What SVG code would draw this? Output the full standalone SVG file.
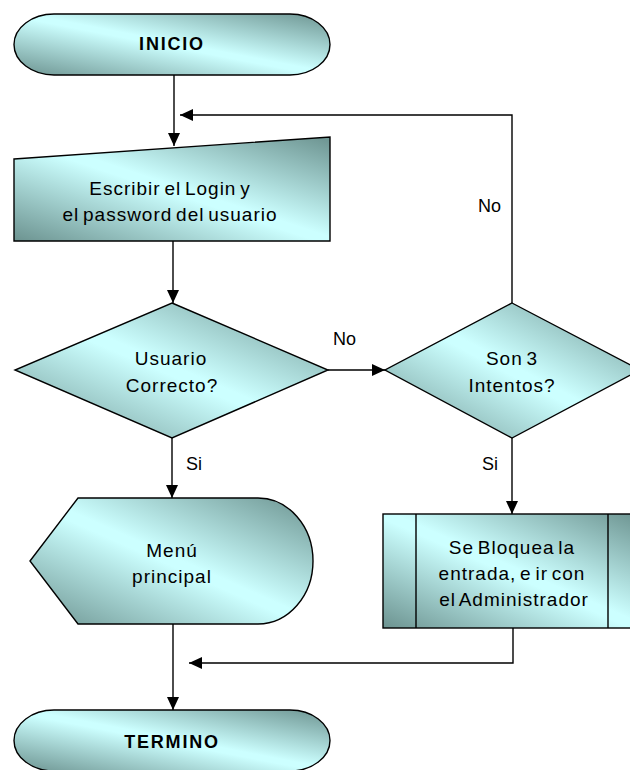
<svg xmlns="http://www.w3.org/2000/svg" width="630" height="770" viewBox="0 0 630 770">
  <defs>
    <linearGradient id="fill" x1="1" y1="0" x2="0" y2="1">
      <stop offset="0" stop-color="#6C9390"/>
      <stop offset="0.48" stop-color="#CCFFFF"/>
      <stop offset="0.52" stop-color="#CCFFFF"/>
      <stop offset="1" stop-color="#6C9390"/>
    </linearGradient>
    <marker id="arrow" viewBox="0 0 13 12" refX="13" refY="6" markerWidth="13" markerHeight="12" markerUnits="userSpaceOnUse" orient="auto">
      <path d="M0,0 L13,6 L0,12 Z" fill="#000"/>
    </marker>
  </defs>
  <style>
    .shape { fill: url(#fill); stroke: #000; stroke-width: 1.4; }
    .edge { fill: none; stroke: #000; stroke-width: 1.4; }
    .txt { font-family: "Liberation Sans", Arial, sans-serif; font-size: 19px; fill: #000; text-anchor: middle; letter-spacing: 1px; word-spacing: -2.5px; }
    .bold { font-size: 18px; font-weight: bold; letter-spacing: 1.8px; word-spacing: 0; }
    .lbl { font-family: "Liberation Sans", Arial, sans-serif; font-size: 18px; fill: #000; }
  </style>
  <rect width="630" height="770" fill="#fff"/>

  <!-- connectors -->
  <g id="connectors">
    <path class="edge" d="M174,75 V146" marker-end="url(#arrow)"/>
    <path class="edge" d="M512,303 V115 H180" marker-end="url(#arrow)"/>
    <path class="edge" d="M173,241 V303" marker-end="url(#arrow)"/>
    <path class="edge" d="M328,370 H385" marker-end="url(#arrow)"/>
    <path class="edge" d="M172,438 V498" marker-end="url(#arrow)"/>
    <path class="edge" d="M512,438 V514" marker-end="url(#arrow)"/>
    <path class="edge" d="M513,628 V663 H189" marker-end="url(#arrow)"/>
    <path class="edge" d="M173,624 V710" marker-end="url(#arrow)"/>
    <text class="lbl" x="333" y="345">No</text>
    <text class="lbl" x="478" y="212">No</text>
    <text class="lbl" x="186" y="470">Si</text>
    <text class="lbl" x="482" y="470">Si</text>
  </g>

  <g id="inicio">
    <rect class="shape" x="14" y="14" width="316" height="61" rx="40" ry="30.5"/>
    <text class="txt bold" x="172" y="50">INICIO</text>
  </g>

  <g id="entrada">
    <polygon class="shape" points="14,159 330,137 330,241 14,241"/>
    <text class="txt" x="170" y="195">Escribir el Login y</text>
    <text class="txt" x="170" y="221">el password del usuario</text>
  </g>

  <g id="usuario-correcto">
    <polygon class="shape" points="172,303 328,370 172,438 15,370"/>
    <text class="txt" x="171" y="365">Usuario</text>
    <text class="txt" x="172" y="392">Correcto?</text>
  </g>

  <g id="son-3-intentos">
    <polygon class="shape" points="512,303 640,370 512,438 385,370"/>
    <text class="txt" x="512" y="365">Son 3</text>
    <text class="txt" x="512" y="392">Intentos?</text>
  </g>

  <g id="menu">
    <path class="shape" d="M30,561 L78,498 H258 A55,63 0 0 1 258,624 H78 Z"/>
    <text class="txt" x="172" y="557">Menú</text>
    <text class="txt" x="172" y="583">principal</text>
  </g>

  <g id="bloqueo">
    <rect class="shape" x="383" y="514" width="258" height="114" stroke="#333"/>
    <path class="edge" d="M416,514 V628 M608,514 V628"/>
    <text class="txt" x="512" y="554">Se Bloquea la</text>
    <text class="txt" x="512" y="580">entrada, e ir con</text>
    <text class="txt" x="514" y="606">el Administrador</text>
  </g>

  <g id="termino">
    <rect class="shape" x="14" y="710" width="316" height="61" rx="40" ry="30.5"/>
    <text class="txt bold" x="172" y="748">TERMINO</text>
  </g>
</svg>
